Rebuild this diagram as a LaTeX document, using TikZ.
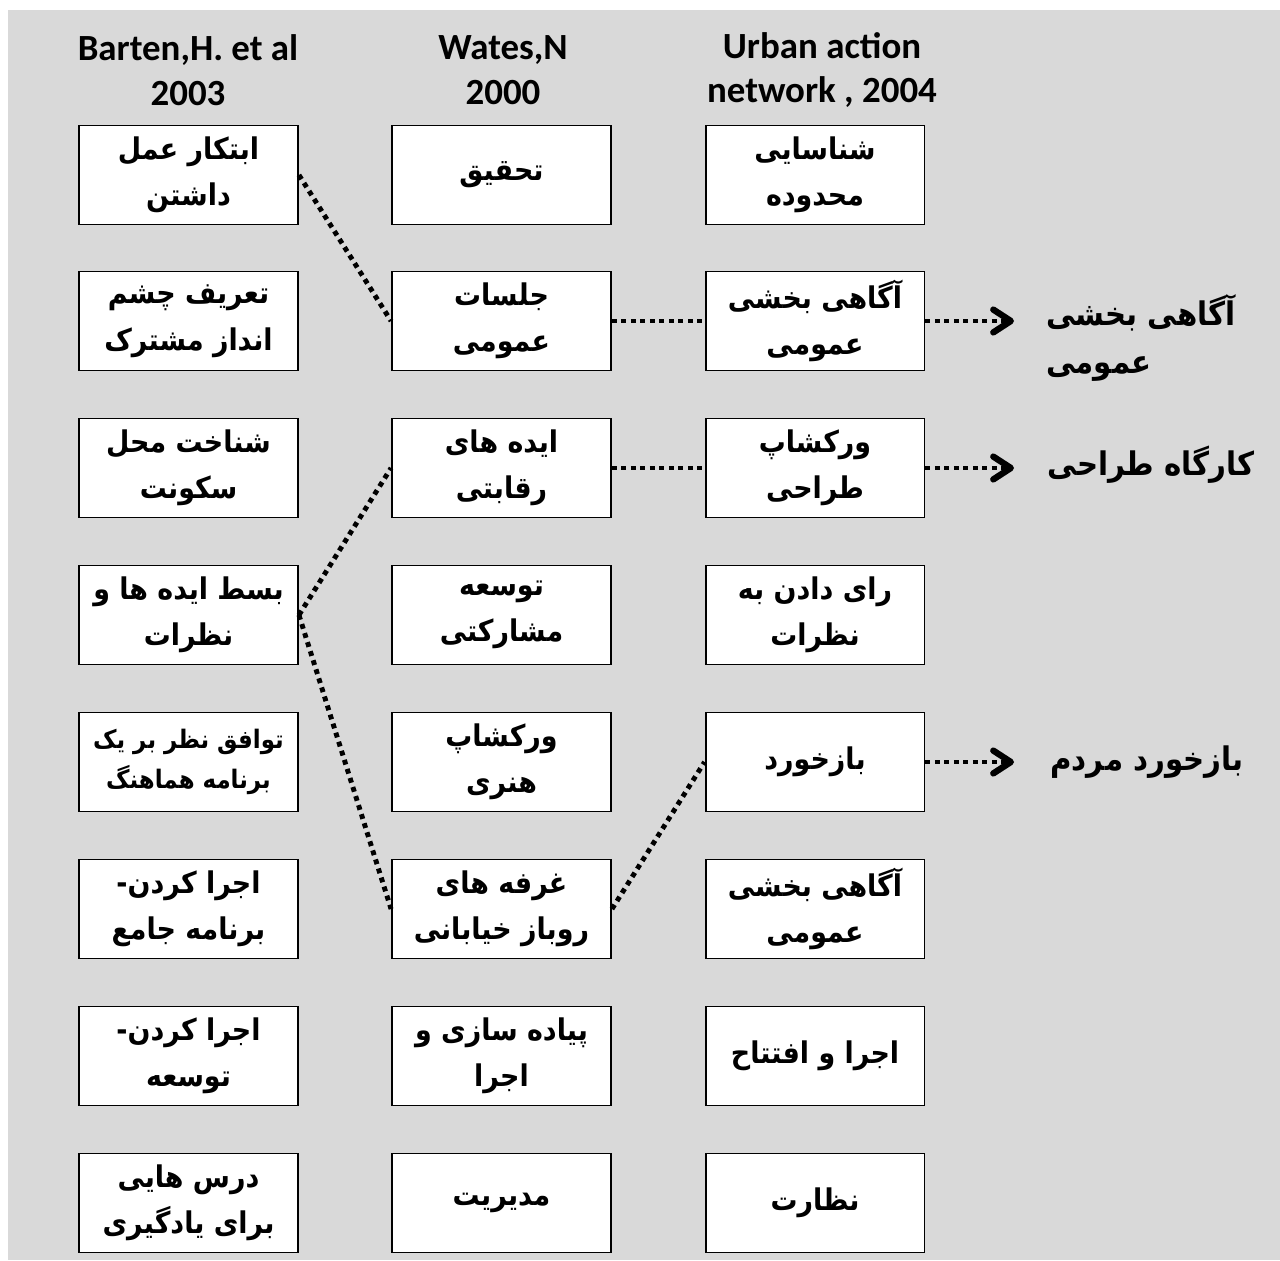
\documentclass[tikz,border=0pt]{standalone}
\usepackage{fontspec}
\usetikzlibrary{arrows.meta}
\TeXXeTstate=1
\newfontfamily\arabicfont[Script=Arabic, FakeStretch=0.9]{DejaVu Sans}
\newfontfamily\headfont{Carlito}
\newcommand{\fa}[1]{{\arabicfont\beginR #1\endR}}
\definecolor{bggray}{HTML}{D9D9D9}

\begin{document}
\begin{tikzpicture}[x=0.02cm, y=-0.02cm,
    stage/.style={draw, line width=1.1pt, fill=white, minimum width=4.38cm,
      minimum height=1.98cm, align=center, inner sep=0pt,
      font=\fontsize{17}{26.5}\selectfont\bfseries},
    small/.style={font=\fontsize{14.5}{23}\selectfont\bfseries},
    head/.style={align=center, font=\fontsize{21}{25.5}\selectfont\headfont\bfseries},
    outcome/.style={font=\fontsize{18.5}{27}\selectfont\bfseries},
    link/.style={line width=2.8pt, dash pattern=on 2.8pt off 2.6pt},
    lead/.style={link, -{Straight Barb[length=10pt, width=13pt, line width=3.6pt, round]}}]
  \useasboundingbox (0,0) rectangle (1280,1260);
  \fill[bggray] (8,10) rectangle (1280,1260);

  % column titles
  \node[head] (hb) at (188,70) {Barten,H. et al\\2003};
  \node[head] (hw) at (503,70) {Wates,N\\2000};
  \node[head] (hu) at (822,70) {Urban action\\network , 2004};

  % Barten
  \node[stage] (b1) at (188.5,175) {\fa{ابتکار عمل}\\\fa{داشتن}};
  \node[stage] (b2) at (188.5,321) {\fa{تعریف چشم}\\\fa{انداز مشترک}};
  \node[stage] (b3) at (188.5,468) {\fa{شناخت محل}\\\fa{سکونت}};
  \node[stage] (b4) at (188.5,615) {\fa{بسط ایده ها و}\\\fa{نظرات}};
  \node[stage, small] (b5) at (188.5,762) {\fa{توافق نظر بر یک}\\\fa{برنامه هماهنگ}};
  \node[stage] (b6) at (188.5,909) {\fa{اجرا کردن-}\\\fa{برنامه جامع}};
  \node[stage] (b7) at (188.5,1056) {\fa{اجرا کردن-}\\\fa{توسعه}};
  \node[stage] (b8) at (188.5,1203) {\fa{درس هایی}\\\fa{برای یادگیری}};

  % Wates
  \node[stage] (w1) at (501.5,175) {\fa{تحقیق}};
  \node[stage] (w2) at (501.5,321) {\fa{جلسات}\\\fa{عمومی}};
  \node[stage] (w3) at (501.5,468) {\fa{ایده های}\\\fa{رقابتی}};
  \node[stage] (w4) at (501.5,615) {\fa{توسعه}\\\fa{مشارکتی}};
  \node[stage] (w5) at (501.5,762) {\fa{ورکشاپ}\\\fa{هنری}};
  \node[stage] (w6) at (501.5,909) {\fa{غرفه های}\\\fa{روباز خیابانی}};
  \node[stage] (w7) at (501.5,1056) {\fa{پیاده سازی و}\\\fa{اجرا}};
  \node[stage] (w8) at (501.5,1203) {\fa{مدیریت}};

  % Urban action network
  \node[stage] (u1) at (815,175) {\fa{شناسایی}\\\fa{محدوده}};
  \node[stage] (u2) at (815,321) {\fa{آگاهی بخشی}\\\fa{عمومی}};
  \node[stage] (u3) at (815,468) {\fa{ورکشاپ}\\\fa{طراحی}};
  \node[stage] (u4) at (815,615) {\fa{رای دادن به}\\\fa{نظرات}};
  \node[stage] (u5) at (815,762) {\fa{بازخورد}};
  \node[stage] (u6) at (815,909) {\fa{آگاهی بخشی}\\\fa{عمومی}};
  \node[stage] (u7) at (815,1056) {\fa{اجرا و افتتاح}};
  \node[stage] (u8) at (815,1203) {\fa{نظارت}};

  % outcomes
  \node[outcome, anchor=west, align=left] (o1) at (1040,338) {\fa{آگاهی بخشی}\\\fa{عمومی}};
  \node[outcome] (o2) at (1151,465) {\fa{کارگاه طراحی}};
  \node[outcome] (o3) at (1147,762) {\fa{بازخورد مردم}};

  \draw[link] (b1.east) -- (w2.west);
  \draw[link] (b4.east) -- (w3.west);
  \draw[link] (b4.east) -- (w6.west);
  \draw[link] (w6.east) -- (u5.west);
  \draw[link] (w2.east) -- (u2.west);
  \draw[link] (w3.east) -- (u3.west);
  \draw[lead] (u2.east) -- (1014,321);
  \draw[lead] (u3.east) -- (1014,468);
  \draw[lead] (u5.east) -- (1014,762);
\end{tikzpicture}
\end{document}
